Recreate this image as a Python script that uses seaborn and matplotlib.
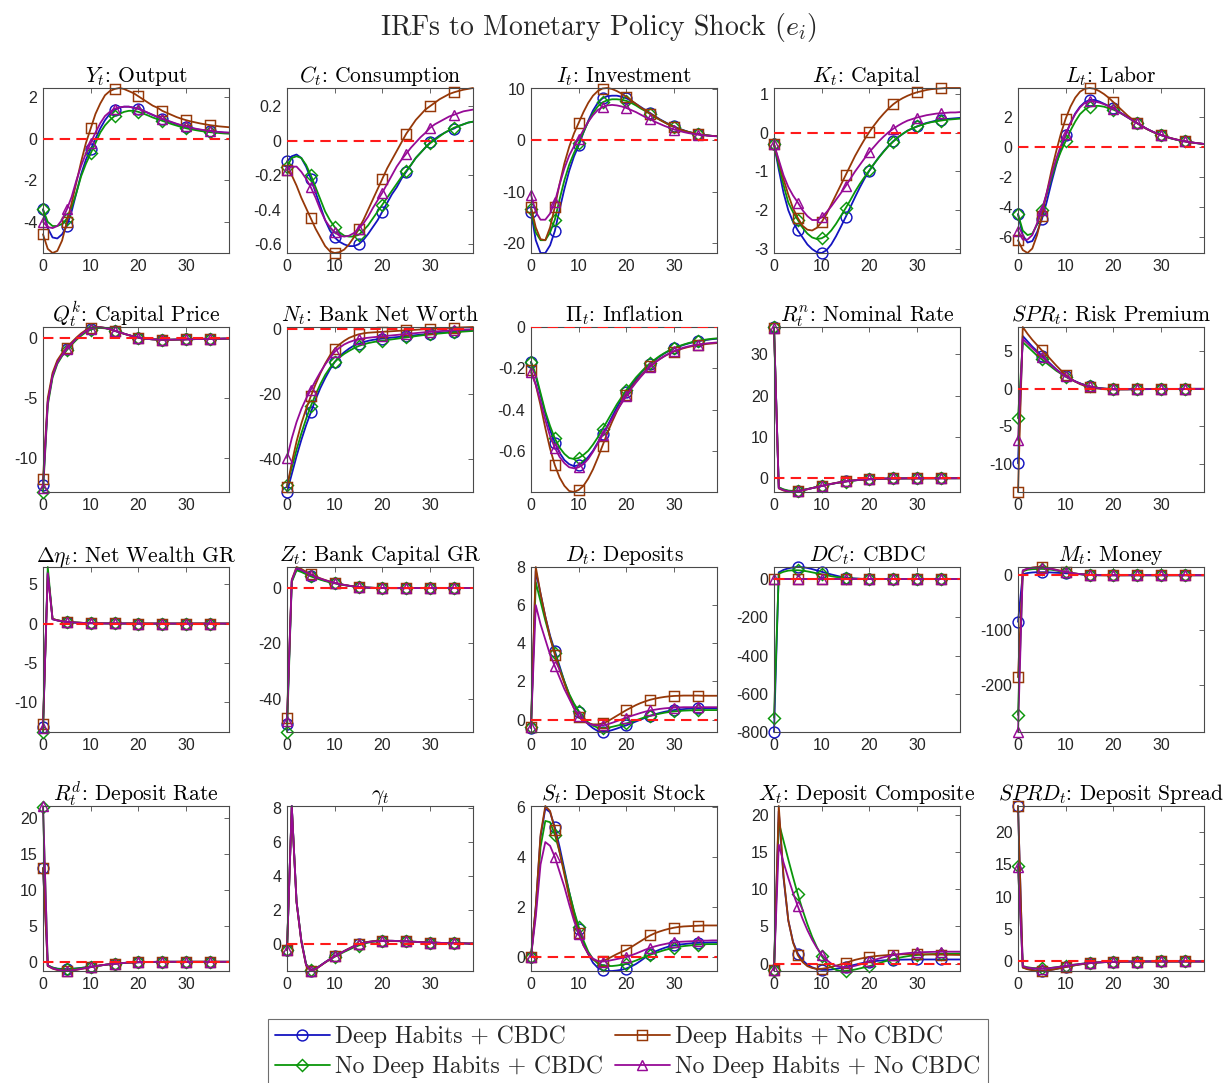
import numpy as np
import matplotlib
matplotlib.use("Agg")
import matplotlib.pyplot as plt
import seaborn as sns

# ---------------------------------------------------------------------------
# Scenario labels and styles
# ---------------------------------------------------------------------------
scenario_keys = ["dh_cbdc", "ndh_cbdc", "dh_nocbdc", "ndh_nocbdc"]
scenario_labels = ["Deep Habits + CBDC", "No Deep Habits + CBDC",
                   "Deep Habits + No CBDC", "No Deep Habits + No CBDC"]
scenario_colors = ["#1414c0", "#0a960a", "#963808", "#960a96"]
scenario_markers = ["o", "D", "s", "^"]

# ---------------------------------------------------------------------------
# Impulse responses (periods 0..39)
# ---------------------------------------------------------------------------
output = dict(
    dh_cbdc=[-3.4, -4.3, -4.75, -4.8, -4.6, -4.2, -3.5, -2.6, -1.7, -1.0, -0.5, 0.0, 0.5, 0.9, 1.2, 1.4, 1.5, 1.55, 1.55, 1.5, 1.45, 1.35, 1.25, 1.15, 1.05, 0.95, 0.87, 0.79, 0.71, 0.64, 0.58, 0.52, 0.47, 0.43, 0.4, 0.37, 0.34, 0.32, 0.3, 0.29],
    dh_nocbdc=[-4.6, -5.3, -5.5, -5.4, -4.9, -4.0, -3.1, -2.1, -1.1, -0.2, 0.5, 1.2, 1.7, 2.1, 2.3, 2.4, 2.45, 2.4, 2.3, 2.2, 2.05, 1.9, 1.75, 1.6, 1.5, 1.35, 1.25, 1.15, 1.05, 0.97, 0.9, 0.84, 0.79, 0.74, 0.7, 0.66, 0.63, 0.6, 0.58, 0.56],
    ndh_cbdc=[-3.4, -4.0, -4.2, -4.2, -4.1, -3.85, -3.3, -2.6, -1.8, -1.2, -0.7, -0.2, 0.3, 0.65, 0.9, 1.1, 1.2, 1.3, 1.35, 1.35, 1.3, 1.22, 1.13, 1.03, 0.95, 0.87, 0.79, 0.71, 0.64, 0.57, 0.51, 0.46, 0.42, 0.38, 0.35, 0.32, 0.3, 0.28, 0.26, 0.25],
    ndh_nocbdc=[-4.0, -4.25, -4.3, -4.2, -3.9, -3.4, -2.8, -2.0, -1.3, -0.7, -0.2, 0.3, 0.75, 1.1, 1.3, 1.45, 1.52, 1.55, 1.55, 1.5, 1.45, 1.36, 1.26, 1.16, 1.06, 0.97, 0.89, 0.81, 0.73, 0.66, 0.6, 0.54, 0.49, 0.45, 0.41, 0.38, 0.35, 0.33, 0.31, 0.3],
)
consumption = dict(
    dh_cbdc=[-0.12, -0.09, -0.08, -0.1, -0.15, -0.22, -0.3, -0.38, -0.46, -0.52, -0.56, -0.585, -0.6, -0.61, -0.61, -0.6, -0.575, -0.54, -0.5, -0.46, -0.41, -0.36, -0.31, -0.27, -0.22, -0.18, -0.14, -0.1, -0.07, -0.04, -0.01, 0.01, 0.03, 0.045, 0.06, 0.07, 0.085, 0.095, 0.105, 0.11],
    dh_nocbdc=[-0.17, -0.2, -0.26, -0.33, -0.39, -0.45, -0.51, -0.56, -0.61, -0.64, -0.65, -0.645, -0.63, -0.6, -0.56, -0.51, -0.46, -0.4, -0.34, -0.28, -0.22, -0.16, -0.11, -0.06, -0.01, 0.04, 0.08, 0.12, 0.15, 0.18, 0.2, 0.22, 0.24, 0.255, 0.27, 0.28, 0.288, 0.295, 0.3, 0.305],
    ndh_cbdc=[-0.15, -0.1, -0.09, -0.1, -0.14, -0.2, -0.27, -0.34, -0.41, -0.46, -0.5, -0.53, -0.55, -0.555, -0.555, -0.545, -0.52, -0.49, -0.45, -0.41, -0.37, -0.33, -0.29, -0.25, -0.21, -0.175, -0.14, -0.1, -0.07, -0.04, -0.015, 0.005, 0.025, 0.045, 0.06, 0.075, 0.085, 0.095, 0.105, 0.11],
    ndh_nocbdc=[-0.17, -0.15, -0.15, -0.18, -0.22, -0.27, -0.33, -0.4, -0.46, -0.5, -0.53, -0.55, -0.555, -0.55, -0.535, -0.51, -0.48, -0.44, -0.39, -0.345, -0.3, -0.25, -0.2, -0.15, -0.11, -0.075, -0.04, -0.01, 0.02, 0.045, 0.075, 0.095, 0.11, 0.125, 0.14, 0.15, 0.16, 0.17, 0.175, 0.18],
)
investment = dict(
    dh_cbdc=[-14.0, -19.5, -22.0, -22.0, -20.5, -17.7, -13.5, -9.5, -6.0, -3.2, -1.0, 1.5, 3.8, 5.8, 7.3, 8.2, 8.6, 8.7, 8.7, 8.5, 8.2, 7.7, 7.1, 6.5, 5.9, 5.3, 4.7, 4.1, 3.6, 3.1, 2.7, 2.3, 1.95, 1.65, 1.4, 1.2, 1.05, 0.95, 0.85, 0.8],
    dh_nocbdc=[-13.0, -17.0, -19.3, -19.5, -17.0, -13.0, -8.5, -4.5, -1.3, 1.3, 3.4, 5.5, 7.3, 8.7, 9.6, 10.1, 10.2, 10.0, 9.6, 9.1, 8.5, 7.8, 7.1, 6.4, 5.8, 5.2, 4.6, 4.0, 3.5, 3.0, 2.6, 2.2, 1.9, 1.6, 1.4, 1.2, 1.05, 0.95, 0.85, 0.8],
    ndh_cbdc=[-13.4, -18.0, -19.5, -19.5, -18.0, -15.5, -11.5, -7.8, -4.8, -2.5, -0.6, 1.6, 3.6, 5.3, 6.6, 7.4, 7.8, 8.0, 8.0, 7.9, 7.7, 7.3, 6.8, 6.2, 5.7, 5.1, 4.5, 4.0, 3.5, 3.0, 2.6, 2.2, 1.9, 1.6, 1.4, 1.2, 1.05, 0.95, 0.85, 0.8],
    ndh_nocbdc=[-10.6, -14.0, -15.5, -15.5, -14.3, -12.0, -8.6, -5.5, -3.0, -1.2, 0.3, 2.0, 3.6, 4.9, 5.9, 6.5, 6.8, 6.9, 6.8, 6.6, 6.3, 5.9, 5.5, 5.0, 4.5, 4.1, 3.6, 3.2, 2.8, 2.45, 2.1, 1.85, 1.6, 1.4, 1.25, 1.1, 1.0, 0.9, 0.82, 0.77],
)
capital = dict(
    dh_cbdc=[-0.3, -0.95, -1.55, -2.0, -2.3, -2.52, -2.7, -2.88, -3.0, -3.08, -3.1, -3.03, -2.88, -2.67, -2.43, -2.18, -1.92, -1.66, -1.41, -1.18, -0.98, -0.8, -0.63, -0.48, -0.34, -0.22, -0.12, -0.03, 0.05, 0.11, 0.16, 0.21, 0.25, 0.28, 0.31, 0.33, 0.35, 0.36, 0.37, 0.38],
    dh_nocbdc=[-0.3, -0.75, -1.2, -1.6, -1.95, -2.2, -2.4, -2.5, -2.52, -2.45, -2.3, -2.1, -1.85, -1.6, -1.35, -1.1, -0.85, -0.6, -0.38, -0.17, 0.02, 0.19, 0.35, 0.49, 0.62, 0.73, 0.82, 0.89, 0.95, 1.0, 1.04, 1.07, 1.1, 1.12, 1.13, 1.14, 1.15, 1.15, 1.15, 1.15],
    ndh_cbdc=[-0.3, -0.85, -1.35, -1.8, -2.05, -2.25, -2.45, -2.6, -2.7, -2.74, -2.72, -2.65, -2.52, -2.35, -2.15, -1.95, -1.74, -1.52, -1.32, -1.14, -0.97, -0.8, -0.64, -0.49, -0.35, -0.23, -0.12, -0.03, 0.05, 0.11, 0.16, 0.2, 0.24, 0.27, 0.29, 0.31, 0.33, 0.34, 0.35, 0.36],
    ndh_nocbdc=[-0.3, -0.7, -1.1, -1.4, -1.62, -1.8, -2.0, -2.15, -2.25, -2.25, -2.18, -2.05, -1.9, -1.73, -1.56, -1.38, -1.19, -1.0, -0.83, -0.66, -0.5, -0.36, -0.22, -0.1, 0.01, 0.1, 0.18, 0.25, 0.31, 0.35, 0.39, 0.42, 0.45, 0.47, 0.49, 0.5, 0.51, 0.52, 0.52, 0.53],
)
labor = dict(
    dh_cbdc=[-4.5, -5.9, -6.4, -6.3, -5.7, -4.85, -3.7, -2.4, -1.2, -0.1, 0.8, 1.6, 2.25, 2.7, 3.0, 3.15, 3.15, 3.05, 2.9, 2.75, 2.6, 2.4, 2.2, 2.0, 1.8, 1.6, 1.4, 1.22, 1.06, 0.92, 0.8, 0.69, 0.59, 0.51, 0.44, 0.38, 0.33, 0.28, 0.24, 0.2],
    dh_nocbdc=[-6.25, -6.9, -7.1, -6.8, -5.9, -4.6, -3.1, -1.6, -0.3, 0.9, 1.9, 2.7, 3.3, 3.7, 3.9, 3.95, 3.9, 3.75, 3.55, 3.3, 3.0, 2.7, 2.4, 2.1, 1.85, 1.6, 1.4, 1.2, 1.05, 0.9, 0.8, 0.7, 0.6, 0.52, 0.45, 0.38, 0.33, 0.28, 0.24, 0.2],
    ndh_cbdc=[-4.5, -5.6, -5.9, -5.8, -5.2, -4.2, -3.2, -2.1, -1.1, -0.3, 0.4, 1.1, 1.7, 2.2, 2.5, 2.7, 2.75, 2.75, 2.7, 2.6, 2.5, 2.35, 2.17, 1.98, 1.78, 1.58, 1.39, 1.21, 1.05, 0.91, 0.79, 0.68, 0.58, 0.5, 0.43, 0.37, 0.32, 0.27, 0.23, 0.2],
    ndh_nocbdc=[-5.6, -6.2, -6.2, -5.9, -5.1, -4.2, -3.1, -1.9, -0.8, 0.1, 0.85, 1.6, 2.2, 2.65, 2.95, 3.05, 3.05, 2.98, 2.87, 2.73, 2.57, 2.38, 2.18, 1.98, 1.78, 1.59, 1.4, 1.22, 1.06, 0.92, 0.8, 0.69, 0.59, 0.51, 0.44, 0.38, 0.33, 0.28, 0.24, 0.2],
)
capital_price = dict(
    dh_cbdc=[-12.3, -5.3, -3.1, -2.0, -1.4, -0.9, -0.45, -0.05, 0.3, 0.6, 0.8, 0.9, 0.9, 0.85, 0.75, 0.62, 0.5, 0.37, 0.25, 0.14, 0.05, -0.02, -0.07, -0.1, -0.12, -0.13, -0.13, -0.13, -0.12, -0.11, -0.1, -0.09, -0.08, -0.07, -0.07, -0.06, -0.05, -0.05, -0.04, -0.04],
    dh_nocbdc=[-11.8, -5.0, -2.9, -1.85, -1.25, -0.8, -0.35, 0.05, 0.4, 0.68, 0.85, 0.93, 0.92, 0.86, 0.76, 0.63, 0.5, 0.37, 0.25, 0.14, 0.05, -0.02, -0.07, -0.1, -0.12, -0.13, -0.13, -0.13, -0.12, -0.11, -0.1, -0.09, -0.08, -0.07, -0.07, -0.06, -0.05, -0.05, -0.04, -0.04],
    ndh_cbdc=[-12.85, -5.6, -3.3, -2.15, -1.5, -1.0, -0.55, -0.15, 0.2, 0.5, 0.7, 0.82, 0.85, 0.82, 0.73, 0.6, 0.49, 0.36, 0.24, 0.13, 0.04, -0.03, -0.07, -0.1, -0.12, -0.13, -0.13, -0.13, -0.12, -0.11, -0.1, -0.09, -0.08, -0.07, -0.07, -0.06, -0.05, -0.05, -0.04, -0.04],
    ndh_nocbdc=[-12.5, -5.4, -3.15, -2.05, -1.42, -0.92, -0.46, -0.06, 0.3, 0.6, 0.8, 0.9, 0.9, 0.85, 0.75, 0.62, 0.5, 0.37, 0.25, 0.14, 0.05, -0.02, -0.07, -0.1, -0.12, -0.13, -0.13, -0.13, -0.12, -0.11, -0.1, -0.09, -0.08, -0.07, -0.07, -0.06, -0.05, -0.05, -0.04, -0.04],
)
net_worth = dict(
    dh_cbdc=[-50.0, -44.5, -39.0, -34.0, -29.5, -25.5, -21.5, -18.0, -15.0, -12.3, -10.0, -8.3, -7.0, -5.9, -5.0, -4.4, -3.9, -3.5, -3.2, -3.0, -2.8, -2.65, -2.5, -2.35, -2.2, -2.05, -1.9, -1.75, -1.6, -1.45, -1.3, -1.15, -1.0, -0.88, -0.76, -0.64, -0.53, -0.43, -0.34, -0.25],
    dh_nocbdc=[-48.5, -41.0, -34.5, -29.0, -24.5, -20.5, -16.8, -13.5, -10.5, -8.0, -6.0, -4.6, -3.5, -2.6, -2.0, -1.5, -1.2, -1.0, -0.9, -0.8, -0.72, -0.63, -0.54, -0.45, -0.36, -0.27, -0.18, -0.09, 0.0, 0.08, 0.16, 0.24, 0.32, 0.4, 0.47, 0.54, 0.6, 0.66, 0.71, 0.76],
    ndh_cbdc=[-48.0, -42.5, -37.0, -32.0, -27.5, -23.5, -20.0, -16.8, -14.0, -11.8, -10.0, -8.6, -7.5, -6.6, -5.8, -5.1, -4.6, -4.2, -3.9, -3.65, -3.45, -3.25, -3.05, -2.85, -2.65, -2.45, -2.25, -2.05, -1.85, -1.68, -1.52, -1.37, -1.23, -1.1, -0.98, -0.86, -0.75, -0.65, -0.55, -0.46],
    ndh_nocbdc=[-39.5, -33.5, -28.5, -24.5, -21.3, -18.5, -15.7, -13.1, -10.8, -8.7, -6.9, -5.6, -4.6, -3.9, -3.4, -3.0, -2.75, -2.55, -2.4, -2.25, -2.1, -1.96, -1.82, -1.68, -1.54, -1.4, -1.26, -1.12, -0.98, -0.85, -0.73, -0.62, -0.51, -0.41, -0.31, -0.22, -0.14, -0.06, 0.01, 0.08],
)
inflation = dict(
    dh_cbdc=[-0.17, -0.24, -0.33, -0.42, -0.5, -0.56, -0.61, -0.645, -0.665, -0.675, -0.67, -0.655, -0.63, -0.6, -0.56, -0.52, -0.48, -0.435, -0.39, -0.35, -0.315, -0.285, -0.255, -0.225, -0.2, -0.178, -0.16, -0.143, -0.128, -0.115, -0.104, -0.095, -0.087, -0.08, -0.074, -0.069, -0.065, -0.062, -0.059, -0.057],
    dh_nocbdc=[-0.21, -0.28, -0.38, -0.49, -0.59, -0.67, -0.73, -0.77, -0.795, -0.8, -0.79, -0.77, -0.735, -0.69, -0.635, -0.575, -0.515, -0.46, -0.41, -0.365, -0.33, -0.295, -0.265, -0.238, -0.213, -0.19, -0.171, -0.155, -0.141, -0.129, -0.119, -0.11, -0.103, -0.097, -0.092, -0.088, -0.085, -0.082, -0.08, -0.078],
    ndh_cbdc=[-0.17, -0.23, -0.32, -0.41, -0.48, -0.54, -0.585, -0.615, -0.635, -0.64, -0.635, -0.62, -0.6, -0.57, -0.535, -0.495, -0.455, -0.415, -0.375, -0.34, -0.305, -0.275, -0.245, -0.22, -0.196, -0.175, -0.157, -0.14, -0.126, -0.113, -0.102, -0.093, -0.085, -0.078, -0.072, -0.067, -0.063, -0.06, -0.057, -0.055],
    ndh_nocbdc=[-0.22, -0.28, -0.36, -0.45, -0.53, -0.585, -0.63, -0.66, -0.68, -0.685, -0.68, -0.665, -0.64, -0.605, -0.565, -0.525, -0.485, -0.445, -0.405, -0.37, -0.335, -0.3, -0.27, -0.242, -0.216, -0.193, -0.173, -0.156, -0.141, -0.128, -0.117, -0.108, -0.1, -0.094, -0.089, -0.085, -0.082, -0.079, -0.077, -0.075],
)
nominal_rate = dict(
    dh_cbdc=[36.5, -2.3, -2.8, -3.1, -3.2, -3.1, -2.9, -2.65, -2.4, -2.15, -1.9, -1.65, -1.4, -1.18, -0.98, -0.8, -0.65, -0.52, -0.42, -0.33, -0.26, -0.2, -0.16, -0.12, -0.1, -0.08, -0.07, -0.06, -0.05, -0.05, -0.04, -0.04, -0.03, -0.03, -0.03, -0.02, -0.02, -0.02, -0.02, -0.01],
    dh_nocbdc=[36.3, -2.5, -3.0, -3.3, -3.35, -3.2, -2.95, -2.7, -2.4, -2.12, -1.85, -1.6, -1.36, -1.14, -0.95, -0.78, -0.63, -0.5, -0.4, -0.32, -0.25, -0.2, -0.16, -0.12, -0.1, -0.08, -0.07, -0.06, -0.05, -0.05, -0.04, -0.04, -0.03, -0.03, -0.03, -0.02, -0.02, -0.02, -0.02, -0.01],
    ndh_cbdc=[36.6, -2.2, -2.7, -3.0, -3.1, -3.0, -2.85, -2.62, -2.38, -2.14, -1.9, -1.66, -1.42, -1.2, -1.0, -0.82, -0.66, -0.53, -0.43, -0.34, -0.27, -0.21, -0.16, -0.12, -0.1, -0.08, -0.07, -0.06, -0.05, -0.05, -0.04, -0.04, -0.03, -0.03, -0.03, -0.02, -0.02, -0.02, -0.02, -0.01],
    ndh_nocbdc=[36.4, -2.4, -2.9, -3.2, -3.3, -3.15, -2.95, -2.68, -2.42, -2.16, -1.9, -1.64, -1.4, -1.17, -0.97, -0.79, -0.64, -0.51, -0.41, -0.33, -0.26, -0.2, -0.16, -0.12, -0.1, -0.08, -0.07, -0.06, -0.05, -0.05, -0.04, -0.04, -0.03, -0.03, -0.03, -0.02, -0.02, -0.02, -0.02, -0.01],
)
risk_premium = dict(
    dh_cbdc=[-9.9, 7.0, 6.3, 5.6, 5.0, 4.4, 3.8, 3.2, 2.6, 2.1, 1.7, 1.3, 1.0, 0.72, 0.5, 0.33, 0.2, 0.1, 0.03, -0.02, -0.05, -0.06, -0.07, -0.07, -0.06, -0.06, -0.05, -0.05, -0.04, -0.04, -0.03, -0.03, -0.03, -0.02, -0.02, -0.02, -0.02, -0.01, -0.01, -0.01],
    dh_nocbdc=[-13.7, 8.2, 7.3, 6.5, 5.8, 5.1, 4.5, 3.8, 3.1, 2.45, 1.85, 1.35, 0.95, 0.62, 0.38, 0.2, 0.08, 0.0, -0.05, -0.08, -0.09, -0.09, -0.08, -0.07, -0.06, -0.05, -0.05, -0.04, -0.04, -0.03, -0.03, -0.03, -0.02, -0.02, -0.02, -0.02, -0.01, -0.01, -0.01, -0.01],
    ndh_cbdc=[-3.9, 6.2, 5.6, 5.0, 4.4, 3.9, 3.4, 2.9, 2.4, 2.0, 1.6, 1.25, 0.95, 0.7, 0.5, 0.33, 0.2, 0.1, 0.03, -0.02, -0.05, -0.06, -0.06, -0.06, -0.06, -0.05, -0.05, -0.04, -0.04, -0.03, -0.03, -0.03, -0.02, -0.02, -0.02, -0.02, -0.01, -0.01, -0.01, -0.01],
    ndh_nocbdc=[-6.8, 6.6, 6.0, 5.4, 4.8, 4.2, 3.7, 3.1, 2.55, 2.05, 1.65, 1.28, 0.97, 0.7, 0.48, 0.31, 0.18, 0.09, 0.02, -0.02, -0.05, -0.06, -0.06, -0.06, -0.05, -0.05, -0.04, -0.04, -0.04, -0.03, -0.03, -0.03, -0.02, -0.02, -0.02, -0.02, -0.01, -0.01, -0.01, -0.01],
)
net_wealth_gr = dict(
    dh_cbdc=[-13.1, 6.6, 0.55, 0.4, 0.3, 0.22, 0.16, 0.12, 0.09, 0.07, 0.05, 0.04, 0.03, 0.02, 0.02, 0.01, 0.01, 0.01, 0.01, 0.0, 0.0, 0.0, 0.0, 0.0, 0.0, 0.0, 0.0, 0.0, 0.0, 0.0, 0.0, 0.0, 0.0, 0.0, 0.0, 0.0, 0.0, 0.0, 0.0, 0.0],
    dh_nocbdc=[-12.8, 6.3, 0.6, 0.42, 0.31, 0.23, 0.17, 0.13, 0.1, 0.07, 0.05, 0.04, 0.03, 0.02, 0.02, 0.01, 0.01, 0.01, 0.01, 0.0, 0.0, 0.0, 0.0, 0.0, 0.0, 0.0, 0.0, 0.0, 0.0, 0.0, 0.0, 0.0, 0.0, 0.0, 0.0, 0.0, 0.0, 0.0, 0.0, 0.0],
    ndh_cbdc=[-13.8, 7.2, 0.6, 0.42, 0.31, 0.23, 0.17, 0.13, 0.1, 0.07, 0.05, 0.04, 0.03, 0.02, 0.02, 0.01, 0.01, 0.01, 0.01, 0.0, 0.0, 0.0, 0.0, 0.0, 0.0, 0.0, 0.0, 0.0, 0.0, 0.0, 0.0, 0.0, 0.0, 0.0, 0.0, 0.0, 0.0, 0.0, 0.0, 0.0],
    ndh_nocbdc=[-13.3, 6.4, 0.55, 0.4, 0.3, 0.22, 0.16, 0.12, 0.09, 0.07, 0.05, 0.04, 0.03, 0.02, 0.02, 0.01, 0.01, 0.01, 0.01, 0.0, 0.0, 0.0, 0.0, 0.0, 0.0, 0.0, 0.0, 0.0, 0.0, 0.0, 0.0, 0.0, 0.0, 0.0, 0.0, 0.0, 0.0, 0.0, 0.0, 0.0],
)
bank_capital_gr = dict(
    dh_cbdc=[-49.0, 2.5, 6.8, 6.2, 5.3, 4.5, 3.8, 3.2, 2.7, 2.2, 1.8, 1.4, 1.1, 0.8, 0.6, 0.4, 0.25, 0.15, 0.08, 0.03, 0.0, -0.02, -0.03, -0.03, -0.03, -0.03, -0.02, -0.02, -0.02, -0.02, -0.01, -0.01, -0.01, -0.01, -0.01, -0.01, 0.0, 0.0, 0.0, 0.0],
    dh_nocbdc=[-47.0, 3.0, 7.6, 6.9, 5.9, 5.0, 4.2, 3.5, 2.9, 2.35, 1.9, 1.5, 1.15, 0.85, 0.6, 0.4, 0.25, 0.15, 0.08, 0.03, 0.0, -0.02, -0.03, -0.03, -0.03, -0.03, -0.02, -0.02, -0.02, -0.02, -0.01, -0.01, -0.01, -0.01, -0.01, -0.01, 0.0, 0.0, 0.0, 0.0],
    ndh_cbdc=[-52.0, 2.2, 6.4, 5.8, 5.0, 4.2, 3.6, 3.0, 2.5, 2.05, 1.7, 1.35, 1.05, 0.8, 0.58, 0.4, 0.25, 0.15, 0.08, 0.03, 0.0, -0.02, -0.03, -0.03, -0.03, -0.03, -0.02, -0.02, -0.02, -0.02, -0.01, -0.01, -0.01, -0.01, -0.01, -0.01, 0.0, 0.0, 0.0, 0.0],
    ndh_nocbdc=[-48.0, 2.8, 7.2, 6.5, 5.6, 4.8, 4.0, 3.4, 2.8, 2.3, 1.85, 1.45, 1.12, 0.82, 0.6, 0.4, 0.25, 0.15, 0.08, 0.03, 0.0, -0.02, -0.03, -0.03, -0.03, -0.03, -0.02, -0.02, -0.02, -0.02, -0.01, -0.01, -0.01, -0.01, -0.01, -0.01, 0.0, 0.0, 0.0, 0.0],
)
deposits = dict(
    dh_cbdc=[-0.45, 7.8, 6.6, 5.4, 4.4, 3.6, 2.8, 2.0, 1.3, 0.8, 0.4, 0.05, -0.25, -0.45, -0.6, -0.65, -0.62, -0.55, -0.47, -0.38, -0.3, -0.2, -0.1, 0.0, 0.1, 0.2, 0.28, 0.35, 0.41, 0.46, 0.5, 0.53, 0.55, 0.57, 0.58, 0.59, 0.59, 0.6, 0.6, 0.6],
    dh_nocbdc=[-0.4, 8.0, 6.6, 5.4, 4.3, 3.4, 2.6, 1.9, 1.2, 0.6, 0.15, -0.1, -0.2, -0.25, -0.25, -0.2, -0.1, 0.05, 0.2, 0.35, 0.5, 0.63, 0.76, 0.87, 0.96, 1.04, 1.1, 1.15, 1.19, 1.22, 1.24, 1.25, 1.26, 1.26, 1.26, 1.26, 1.25, 1.25, 1.25, 1.25],
    ndh_cbdc=[-0.4, 7.2, 6.2, 5.2, 4.3, 3.5, 2.7, 2.0, 1.35, 0.85, 0.45, 0.1, -0.15, -0.32, -0.42, -0.45, -0.43, -0.38, -0.32, -0.26, -0.2, -0.12, -0.04, 0.05, 0.13, 0.2, 0.26, 0.31, 0.36, 0.4, 0.43, 0.45, 0.47, 0.48, 0.49, 0.5, 0.5, 0.5, 0.5, 0.5],
    ndh_nocbdc=[-0.4, 6.0, 5.0, 4.2, 3.4, 2.8, 2.2, 1.6, 1.1, 0.6, 0.2, -0.05, -0.2, -0.28, -0.3, -0.3, -0.25, -0.17, -0.08, 0.01, 0.1, 0.19, 0.27, 0.35, 0.42, 0.48, 0.52, 0.56, 0.59, 0.61, 0.63, 0.64, 0.65, 0.65, 0.65, 0.65, 0.65, 0.65, 0.65, 0.65],
)
cbdc = dict(
    dh_cbdc=[-800.0, 35.0, 48.0, 56.0, 61.0, 63.0, 62.0, 58.0, 52.0, 45.0, 38.0, 31.0, 24.0, 18.0, 12.0, 8.0, 5.0, 3.0, 1.5, 0.5, 0.0, 0.0, 0.0, 0.0, 0.0, 0.0, 0.0, 0.0, 0.0, 0.0, 0.0, 0.0, 0.0, 0.0, 0.0, 0.0, 0.0, 0.0, 0.0, 0.0],
    dh_nocbdc=[0.0, 0.0, 0.0, 0.0, 0.0, 0.0, 0.0, 0.0, 0.0, 0.0, 0.0, 0.0, 0.0, 0.0, 0.0, 0.0, 0.0, 0.0, 0.0, 0.0, 0.0, 0.0, 0.0, 0.0, 0.0, 0.0, 0.0, 0.0, 0.0, 0.0, 0.0, 0.0, 0.0, 0.0, 0.0, 0.0, 0.0, 0.0, 0.0, 0.0],
    ndh_cbdc=[-725.0, 28.0, 38.0, 44.0, 46.0, 46.0, 44.0, 40.0, 35.0, 30.0, 25.0, 20.0, 15.0, 11.0, 8.0, 5.0, 3.0, 2.0, 1.0, 0.5, 0.0, 0.0, 0.0, 0.0, 0.0, 0.0, 0.0, 0.0, 0.0, 0.0, 0.0, 0.0, 0.0, 0.0, 0.0, 0.0, 0.0, 0.0, 0.0, 0.0],
    ndh_nocbdc=[0.0, 0.0, 0.0, 0.0, 0.0, 0.0, 0.0, 0.0, 0.0, 0.0, 0.0, 0.0, 0.0, 0.0, 0.0, 0.0, 0.0, 0.0, 0.0, 0.0, 0.0, 0.0, 0.0, 0.0, 0.0, 0.0, 0.0, 0.0, 0.0, 0.0, 0.0, 0.0, 0.0, 0.0, 0.0, 0.0, 0.0, 0.0, 0.0, 0.0],
)
money = dict(
    dh_cbdc=[-85.0, 2.0, 4.0, 5.0, 5.5, 5.5, 5.5, 5.0, 4.5, 4.0, 3.5, 3.0, 2.4, 1.8, 1.3, 0.9, 0.6, 0.4, 0.2, 0.1, 0.0, 0.0, 0.0, 0.0, 0.0, 0.0, 0.0, 0.0, 0.0, 0.0, 0.0, 0.0, 0.0, 0.0, 0.0, 0.0, 0.0, 0.0, 0.0, 0.0],
    dh_nocbdc=[-186.0, 8.0, 12.0, 14.0, 15.0, 15.0, 14.0, 12.0, 10.0, 8.0, 6.0, 4.5, 3.0, 2.0, 1.2, 0.6, 0.2, 0.0, -0.1, -0.1, -0.1, -0.1, -0.1, 0.0, 0.0, 0.0, 0.0, 0.0, 0.0, 0.0, 0.0, 0.0, 0.0, 0.0, 0.0, 0.0, 0.0, 0.0, 0.0, 0.0],
    ndh_cbdc=[-255.0, 7.0, 10.0, 11.0, 11.5, 11.5, 11.0, 10.0, 8.5, 7.0, 5.5, 4.2, 3.0, 2.0, 1.2, 0.6, 0.2, 0.0, 0.0, 0.0, 0.0, 0.0, 0.0, 0.0, 0.0, 0.0, 0.0, 0.0, 0.0, 0.0, 0.0, 0.0, 0.0, 0.0, 0.0, 0.0, 0.0, 0.0, 0.0, 0.0],
    ndh_nocbdc=[-286.0, 9.0, 12.0, 13.5, 14.0, 14.0, 13.0, 11.5, 9.5, 7.5, 6.0, 4.5, 3.2, 2.1, 1.3, 0.7, 0.3, 0.0, 0.0, 0.0, 0.0, 0.0, 0.0, 0.0, 0.0, 0.0, 0.0, 0.0, 0.0, 0.0, 0.0, 0.0, 0.0, 0.0, 0.0, 0.0, 0.0, 0.0, 0.0, 0.0],
)
deposit_rate = dict(
    dh_cbdc=[13.0, -0.5, -0.8, -0.95, -1.0, -1.0, -0.97, -0.92, -0.85, -0.77, -0.68, -0.59, -0.5, -0.42, -0.34, -0.27, -0.21, -0.16, -0.12, -0.09, -0.06, -0.04, -0.03, -0.02, -0.01, -0.01, 0.0, 0.0, 0.0, 0.0, 0.0, 0.0, 0.0, 0.0, 0.0, 0.0, 0.0, 0.0, 0.0, 0.0],
    dh_nocbdc=[13.0, -0.6, -0.95, -1.15, -1.25, -1.28, -1.22, -1.12, -1.0, -0.88, -0.75, -0.63, -0.52, -0.42, -0.34, -0.27, -0.21, -0.16, -0.12, -0.09, -0.06, -0.04, -0.03, -0.02, -0.01, -0.01, 0.0, 0.0, 0.0, 0.0, 0.0, 0.0, 0.0, 0.0, 0.0, 0.0, 0.0, 0.0, 0.0, 0.0],
    ndh_cbdc=[21.4, -0.5, -0.8, -0.98, -1.05, -1.05, -1.0, -0.94, -0.86, -0.78, -0.69, -0.6, -0.51, -0.42, -0.34, -0.27, -0.21, -0.16, -0.12, -0.09, -0.06, -0.04, -0.03, -0.02, -0.01, -0.01, 0.0, 0.0, 0.0, 0.0, 0.0, 0.0, 0.0, 0.0, 0.0, 0.0, 0.0, 0.0, 0.0, 0.0],
    ndh_nocbdc=[21.6, -0.55, -0.9, -1.1, -1.2, -1.25, -1.2, -1.1, -0.98, -0.86, -0.74, -0.62, -0.52, -0.42, -0.34, -0.27, -0.21, -0.16, -0.12, -0.09, -0.06, -0.04, -0.03, -0.02, -0.01, -0.01, 0.0, 0.0, 0.0, 0.0, 0.0, 0.0, 0.0, 0.0, 0.0, 0.0, 0.0, 0.0, 0.0, 0.0],
)
gamma = dict(
    dh_cbdc=[-0.35, 8.1, 2.5, 0.2, -1.2, -1.55, -1.45, -1.25, -1.05, -0.87, -0.7, -0.55, -0.4, -0.26, -0.12, 0.0, 0.08, 0.13, 0.17, 0.19, 0.2, 0.2, 0.2, 0.19, 0.18, 0.17, 0.15, 0.14, 0.12, 0.11, 0.1, 0.09, 0.08, 0.07, 0.06, 0.06, 0.05, 0.05, 0.04, 0.04],
    dh_nocbdc=[-0.35, 8.05, 2.45, 0.15, -1.25, -1.57, -1.47, -1.27, -1.07, -0.88, -0.71, -0.55, -0.4, -0.25, -0.11, 0.01, 0.09, 0.14, 0.18, 0.2, 0.21, 0.21, 0.2, 0.19, 0.18, 0.17, 0.15, 0.14, 0.12, 0.11, 0.1, 0.09, 0.08, 0.07, 0.06, 0.06, 0.05, 0.05, 0.04, 0.04],
    ndh_cbdc=[-0.35, 8.1, 2.5, 0.25, -1.15, -1.5, -1.42, -1.25, -1.07, -0.9, -0.74, -0.59, -0.45, -0.32, -0.19, -0.08, 0.02, 0.09, 0.14, 0.17, 0.18, 0.19, 0.19, 0.18, 0.17, 0.16, 0.15, 0.13, 0.12, 0.11, 0.1, 0.09, 0.08, 0.07, 0.06, 0.06, 0.05, 0.05, 0.04, 0.04],
    ndh_nocbdc=[-0.35, 8.1, 2.5, 0.2, -1.2, -1.55, -1.45, -1.26, -1.06, -0.88, -0.71, -0.56, -0.41, -0.27, -0.13, -0.01, 0.07, 0.12, 0.16, 0.18, 0.19, 0.2, 0.2, 0.19, 0.18, 0.17, 0.15, 0.14, 0.12, 0.11, 0.1, 0.09, 0.08, 0.07, 0.06, 0.06, 0.05, 0.05, 0.04, 0.04],
)
deposit_stock = dict(
    dh_cbdc=[0.0, 2.0, 4.8, 5.95, 5.8, 5.2, 4.4, 3.5, 2.6, 1.8, 1.1, 0.55, 0.1, -0.25, -0.45, -0.55, -0.58, -0.58, -0.56, -0.53, -0.48, -0.4, -0.3, -0.17, -0.03, 0.1, 0.2, 0.28, 0.35, 0.41, 0.45, 0.48, 0.5, 0.52, 0.54, 0.55, 0.56, 0.56, 0.57, 0.57],
    dh_nocbdc=[0.0, 2.0, 4.9, 6.05, 5.85, 5.1, 4.2, 3.3, 2.4, 1.6, 0.95, 0.45, 0.1, -0.12, -0.2, -0.18, -0.1, 0.0, 0.1, 0.19, 0.27, 0.38, 0.5, 0.62, 0.74, 0.85, 0.94, 1.01, 1.07, 1.12, 1.16, 1.19, 1.21, 1.22, 1.23, 1.24, 1.25, 1.25, 1.25, 1.25],
    ndh_cbdc=[0.0, 1.8, 4.4, 5.45, 5.4, 4.9, 4.2, 3.4, 2.6, 1.85, 1.2, 0.65, 0.2, -0.1, -0.28, -0.35, -0.38, -0.38, -0.36, -0.33, -0.29, -0.23, -0.16, -0.08, 0.0, 0.07, 0.14, 0.2, 0.26, 0.31, 0.36, 0.39, 0.42, 0.44, 0.46, 0.48, 0.49, 0.5, 0.5, 0.5],
    ndh_nocbdc=[0.0, 1.6, 3.7, 4.6, 4.45, 4.0, 3.4, 2.8, 2.1, 1.45, 0.9, 0.45, 0.12, -0.08, -0.18, -0.2, -0.18, -0.14, -0.1, -0.06, -0.02, 0.05, 0.12, 0.2, 0.28, 0.35, 0.41, 0.46, 0.5, 0.54, 0.57, 0.59, 0.6, 0.61, 0.62, 0.63, 0.64, 0.64, 0.65, 0.65],
)
deposit_composite = dict(
    dh_cbdc=[-0.9, 20.5, 11.5, 5.8, 2.9, 1.35, 0.45, -0.15, -0.5, -0.75, -0.85, -0.85, -0.8, -0.7, -0.58, -0.45, -0.3, -0.15, 0.0, 0.13, 0.25, 0.32, 0.38, 0.43, 0.47, 0.5, 0.52, 0.53, 0.54, 0.55, 0.55, 0.55, 0.55, 0.55, 0.55, 0.55, 0.55, 0.55, 0.55, 0.55],
    dh_nocbdc=[-0.9, 21.2, 11.8, 5.8, 2.8, 1.1, 0.2, -0.35, -0.6, -0.72, -0.7, -0.6, -0.45, -0.28, -0.1, 0.1, 0.3, 0.5, 0.65, 0.78, 0.9, 0.98, 1.05, 1.1, 1.15, 1.2, 1.23, 1.25, 1.26, 1.26, 1.25, 1.24, 1.23, 1.22, 1.21, 1.2, 1.19, 1.18, 1.17, 1.16],
    ndh_cbdc=[-0.9, 19.0, 16.5, 14.0, 11.6, 9.3, 7.2, 5.3, 3.6, 2.2, 1.0, 0.1, -0.5, -0.85, -1.0, -1.0, -0.92, -0.8, -0.65, -0.5, -0.35, -0.15, 0.05, 0.25, 0.43, 0.6, 0.75, 0.88, 0.99, 1.08, 1.15, 1.2, 1.24, 1.27, 1.29, 1.31, 1.32, 1.33, 1.34, 1.35],
    ndh_nocbdc=[-0.9, 16.0, 13.6, 11.5, 9.5, 7.7, 6.0, 4.5, 3.2, 2.1, 1.2, 0.5, 0.0, -0.3, -0.45, -0.5, -0.43, -0.3, -0.13, 0.07, 0.28, 0.48, 0.67, 0.85, 1.0, 1.13, 1.24, 1.33, 1.4, 1.46, 1.5, 1.53, 1.55, 1.57, 1.58, 1.59, 1.6, 1.6, 1.6, 1.6],
)
deposit_spread = dict(
    dh_cbdc=[24.0, -0.9, -1.15, -1.3, -1.4, -1.42, -1.38, -1.28, -1.15, -1.0, -0.85, -0.7, -0.57, -0.45, -0.35, -0.27, -0.2, -0.15, -0.11, -0.08, -0.06, -0.04, -0.03, -0.02, -0.02, -0.01, -0.01, 0.0, 0.0, 0.0, 0.0, 0.0, 0.0, 0.0, 0.0, 0.0, 0.0, 0.0, 0.0, 0.0],
    dh_nocbdc=[24.0, -0.95, -1.2, -1.35, -1.45, -1.47, -1.42, -1.3, -1.16, -1.01, -0.86, -0.71, -0.58, -0.46, -0.36, -0.27, -0.2, -0.15, -0.11, -0.08, -0.06, -0.04, -0.03, -0.02, -0.02, -0.01, -0.01, 0.0, 0.0, 0.0, 0.0, 0.0, 0.0, 0.0, 0.0, 0.0, 0.0, 0.0, 0.0, 0.0],
    ndh_cbdc=[14.7, -0.7, -0.9, -1.0, -1.05, -1.08, -1.05, -0.98, -0.88, -0.78, -0.68, -0.57, -0.47, -0.38, -0.3, -0.23, -0.17, -0.13, -0.1, -0.07, -0.05, -0.04, -0.03, -0.02, -0.02, -0.01, -0.01, 0.0, 0.0, 0.0, 0.0, 0.0, 0.0, 0.0, 0.0, 0.0, 0.0, 0.0, 0.0, 0.0],
    ndh_nocbdc=[14.6, -0.75, -0.95, -1.05, -1.1, -1.12, -1.08, -1.0, -0.9, -0.8, -0.69, -0.58, -0.48, -0.39, -0.31, -0.24, -0.18, -0.13, -0.1, -0.07, -0.05, -0.04, -0.03, -0.02, -0.02, -0.01, -0.01, 0.0, 0.0, 0.0, 0.0, 0.0, 0.0, 0.0, 0.0, 0.0, 0.0, 0.0, 0.0, 0.0],
)

panel_titles = [
    r"$Y_t$: Output", r"$C_t$: Consumption", r"$I_t$: Investment", r"$K_t$: Capital", r"$L_t$: Labor",
    r"$Q_t^k$: Capital Price", r"$N_t$: Bank Net Worth", r"$\Pi_t$: Inflation", r"$R_t^n$: Nominal Rate", r"$SPR_t$: Risk Premium",
    r"$\Delta\eta_t$: Net Wealth GR", r"$Z_t$: Bank Capital GR", r"$D_t$: Deposits", r"$DC_t$: CBDC", r"$M_t$: Money",
    r"$R_t^d$: Deposit Rate", r"$\gamma_t$", r"$S_t$: Deposit Stock", r"$X_t$: Deposit Composite", r"$SPRD_t$: Deposit Spread",
]
panel_data = [
    output, consumption, investment, capital, labor,
    capital_price, net_worth, inflation, nominal_rate, risk_premium,
    net_wealth_gr, bank_capital_gr, deposits, cbdc, money,
    deposit_rate, gamma, deposit_stock, deposit_composite, deposit_spread,
]
panel_yticks = [
    [-4, -2, 0, 2], [-0.6, -0.4, -0.2, 0, 0.2], [-20, -10, 0, 10], [-3, -2, -1, 0, 1], [-6, -4, -2, 0, 2],
    [-10, -5, 0], [-40, -20, 0], [-0.6, -0.4, -0.2, 0], [0, 10, 20, 30], [-10, -5, 0, 5],
    [-10, -5, 0, 5], [-40, -20, 0], [0, 2, 4, 6, 8], [-800, -600, -400, -200, 0], [-200, -100, 0],
    [0, 5, 10, 15, 20], [0, 2, 4, 6, 8], [0, 2, 4, 6], [0, 5, 10, 15, 20], [0, 5, 10, 15, 20],
]
xticks = [0, 10, 20, 30]
horizon_end = 39

# ---------------------------------------------------------------------------
# Styling
# ---------------------------------------------------------------------------
sns.set_style("white")
plt.rcParams.update({
    "font.family": ["Liberation Sans", "DejaVu Sans"],
    "mathtext.fontset": "cm",
    "axes.unicode_minus": False,
})
serif = "cmr10"
frame_color = "#4a4a4a"
tick_color = "#262626"

W, H = 1223, 1083
fig = plt.figure(figsize=(W / 100, H / 100), dpi=100)

col_left = [43, 287, 531, 774, 1018]
row_top = [88, 327, 567, 806]
ax_w, ax_h = 186, 165

axes = []
for i, (title, series, yt) in enumerate(zip(panel_titles, panel_data, panel_yticks)):
    r, c = divmod(i, 5)
    ax = fig.add_axes([col_left[c] / W, 1 - (row_top[r] + ax_h) / H, ax_w / W, ax_h / H])
    axes.append(ax)
    all_vals = [0.0]
    for key, lab, col, mk in zip(scenario_keys, scenario_labels, scenario_colors, scenario_markers):
        y = np.asarray(series[key], dtype=float)
        t = np.arange(len(y))
        all_vals.extend(y.tolist())
        sns.lineplot(
            x=t, y=y, ax=ax, color=col, marker=mk, markevery=5,
            markersize=6.4 if mk == "D" else 7.8,
            markerfacecolor="none", markeredgecolor=col, markeredgewidth=1.05,
            linewidth=1.3, label=lab, legend=False, errorbar=None,
            clip_on=False, zorder=2,
        )
    ax.plot([0, horizon_end], [0, 0], color="#ff1a1a", linestyle=(0, (5, 3)),
            linewidth=1.5, zorder=3)
    ax.set_xlim(0, horizon_end)
    ax.set_ylim(min(all_vals), max(all_vals))
    ax.set_xticks(xticks)
    ax.set_xticklabels([f"{v:g}" for v in xticks])
    ax.set_yticks(yt)
    ax.set_yticklabels([f"{v:g}" for v in yt])
    ax.set_xlabel("")
    ax.set_ylabel("")
    ax.tick_params(direction="in", length=3.5, width=0.6, top=True, right=True,
                   labelsize=11.5, colors=frame_color, labelcolor=tick_color, pad=4)
    for sp in ax.spines.values():
        sp.set_color(frame_color)
        sp.set_linewidth(0.8)
    ax.set_title(title, fontsize=15.5, fontfamily=serif, pad=4, color="black")

fig.text(598 / W, 1 - 27 / H, r"IRFs to Monetary Policy Shock ($e_i$)",
         ha="center", va="center", fontsize=20, fontfamily=serif)

handles, labels = axes[0].get_legend_handles_labels()
leg = fig.legend(handles, labels, loc="center", bbox_to_anchor=(628 / W, 1 - 1052 / H),
                 ncol=2, prop={"family": serif, "size": 17}, frameon=True, fancybox=False,
                 edgecolor=frame_color, handlelength=2.3, handletextpad=0.25,
                 columnspacing=0.5, labelspacing=0.3, borderpad=0.3, borderaxespad=0)
leg.get_frame().set_linewidth(0.8)

fig.savefig("out.png", dpi=100)
